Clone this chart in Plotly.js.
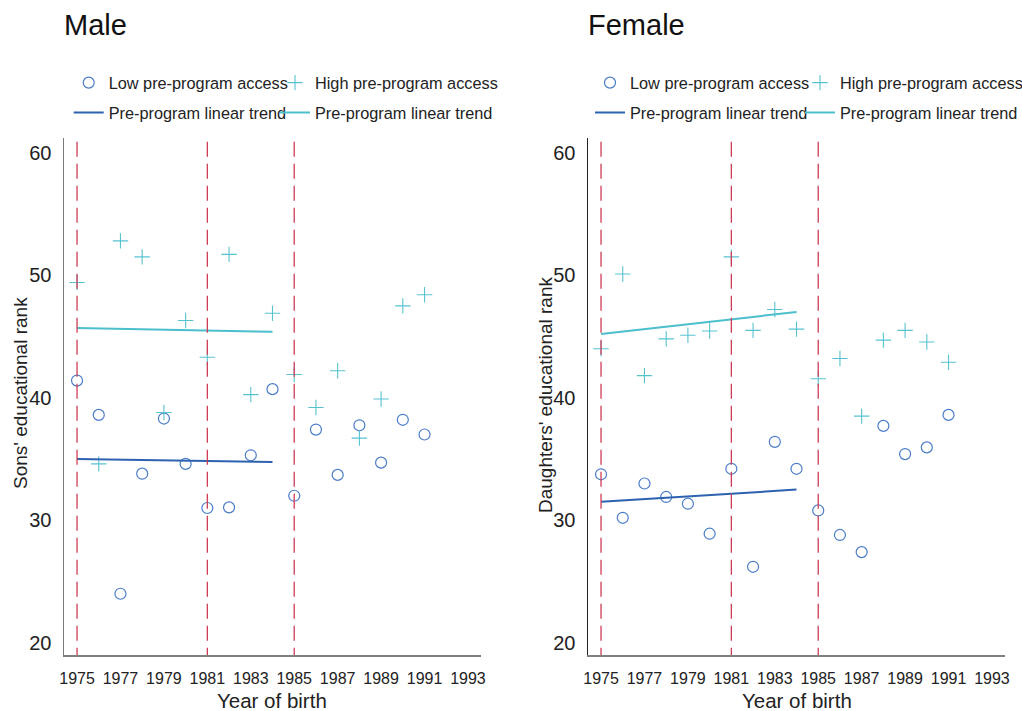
<!DOCTYPE html>
<html><head><meta charset="utf-8">
<script src="https://cdn.plot.ly/plotly-3.0.1.min.js"></script>
<style>html,body{margin:0;padding:0;background:#fff}#chart{width:1022px;height:711px}</style>
</head><body><div id="chart"></div>
<script>
// ---- data ----
const years = [1975,1976,1977,1978,1979,1980,1981,1982,1983,1984,1985,1986,1987,1988,1989,1990,1991];
const maleLow = [41.4,38.6,24.0,33.8,38.3,34.6,31.0,31.05,35.3,40.7,32.0,37.4,33.7,37.75,34.7,38.2,37.0];
const maleHigh = [49.4,34.6,52.8,51.5,38.8,46.3,43.3,51.7,40.25,46.9,41.9,39.2,42.2,36.7,39.9,47.5,48.4];
const femaleLow = [33.75,30.2,33.0,31.9,31.35,28.9,34.2,26.2,36.4,34.2,30.8,28.8,27.4,37.7,35.4,35.95,38.6];
const femaleHigh = [44.0,50.1,41.8,44.8,45.1,45.45,51.5,45.5,47.2,45.6,41.55,43.2,38.5,44.7,45.5,44.55,42.9];
const trendYears = [1975,1984];
const maleLowTrend = [35.0,34.75];
const maleHighTrend = [45.7,45.38];
const femaleLowTrend = [31.5,32.5];
const femaleHighTrend = [45.2,47.0];
const eventYears = [1975,1981,1985];
const xTicks = [1975,1977,1979,1981,1983,1985,1987,1989,1991,1993];
const yTicks = [20,30,40,50,60];
const panelTitles = ['Male','Female'];
const yTitles = ["Sons' educational rank","Daughters' educational rank"];
const xTitle = 'Year of birth';
const legendNames = ['Low pre-program access','High pre-program access','Pre-program linear trend','Pre-program linear trend'];

// ---- styling ----
const FONT = '"Liberation Sans", Arial, sans-serif';
const cLow = '#4a7cc8', cHigh = '#57c3d1', cLowLine = '#2c62b0', cHighLine = '#4bbfcc', cRed = '#cf3d57';
const W = 1022, H = 711;
const px = v => v / W, py = v => 1 - v / H;

function panelTraces(low, high, lowT, highT, xa, ya, legBase) {
  return [
    {x: years, y: low, type: 'scatter', mode: 'markers', name: legendNames[0], xaxis: xa, yaxis: ya,
     marker: {symbol: 'circle-open', size: 11, color: cLow, line: {width: 1.2, color: cLow}}, legend: 'legend' + (legBase + 2)},
    {x: years, y: high, type: 'scatter', mode: 'markers', name: legendNames[1], xaxis: xa, yaxis: ya,
     marker: {symbol: 'cross-thin-open', size: 11, color: cHigh, line: {width: 1.1, color: cHigh}}, legend: 'legend' + (legBase + 3)},
    {x: trendYears, y: lowT, type: 'scatter', mode: 'lines', name: legendNames[2], xaxis: xa, yaxis: ya,
     line: {color: cLowLine, width: 2}, legend: 'legend' + (legBase + 4)},
    {x: trendYears, y: highT, type: 'scatter', mode: 'lines', name: legendNames[3], xaxis: xa, yaxis: ya,
     line: {color: cHighLine, width: 2}, legend: 'legend' + (legBase + 5)}
  ];
}

const data = [
  ...panelTraces(maleLow, maleHigh, maleLowTrend, maleHighTrend, 'x', 'y', 0),
  ...panelTraces(femaleLow, femaleHigh, femaleLowTrend, femaleHighTrend, 'x2', 'y2', 4)
];

function legendAt(xpix, ypix) {
  return {x: px(xpix), y: py(ypix), xanchor: 'left', yanchor: 'middle', xref: 'paper', yref: 'paper',
          bgcolor: 'rgba(0,0,0,0)', borderwidth: 0, font: {family: FONT, size: 16.3, color: '#222'},
          orientation: 'v', itemwidth: 30};
}
const legOffset = 19;
const legCols = [[87.7, 294], [609, 819]];
const legRows = [83, 113];

function xAxis(domain) {
  return {domain: domain, range: [1974.4, 1993.6], tickvals: xTicks, ticktext: xTicks.map(String),
    showgrid: false, zeroline: false, showline: true, linecolor: '#808080', linewidth: 1.5, ticks: '',
    ticklabelstandoff: 8, tickfont: {family: FONT, size: 16, color: '#222'}};
}
function yAxis(domain, anchor, lineColor) {
  return {domain: domain, anchor: anchor, range: [19.0, 61.2], tickvals: yTicks, ticktext: yTicks.map(String),
    showgrid: false, zeroline: false, showline: true, linecolor: lineColor, linewidth: 1.5, ticks: '',
    ticklabelstandoff: 7, tickfont: {family: FONT, size: 20, color: '#222'}};
}

const yDom = [(H - 655) / H, (H - 138) / H];
const xDom1 = [64 / W, 481 / W], xDom2 = [588 / W, 1005 / W];
const titleFont = {family: FONT, size: 20.5, color: '#222'};
const layout = {
  width: W, height: H, margin: {l: 0, r: 0, t: 0, b: 0, autoexpand: false}, paper_bgcolor: '#fff', plot_bgcolor: '#fff',
  font: {family: FONT, color: '#222'}, showlegend: true,
  xaxis: Object.assign(xAxis(xDom1), {anchor: 'y'}),
  yaxis: yAxis(yDom, 'x', '#7a7a7a'),
  xaxis2: Object.assign(xAxis(xDom2), {anchor: 'y2'}),
  yaxis2: yAxis(yDom, 'x2', '#222'),
  shapes: [],
  annotations: [
    {text: panelTitles[0], xref: 'paper', yref: 'paper', x: px(62), y: py(25), xanchor: 'left', yanchor: 'middle', showarrow: false, font: {family: FONT, size: 29, color: '#111'}},
    {text: panelTitles[1], xref: 'paper', yref: 'paper', x: px(586), y: py(25), xanchor: 'left', yanchor: 'middle', showarrow: false, font: {family: FONT, size: 29, color: '#111'}},
    {text: yTitles[0], xref: 'paper', yref: 'paper', x: px(20), y: py(393), xanchor: 'center', yanchor: 'middle', textangle: -90, showarrow: false, font: {family: FONT, size: 19, color: '#222'}},
    {text: yTitles[1], xref: 'paper', yref: 'paper', x: px(545), y: py(395), xanchor: 'center', yanchor: 'middle', textangle: -90, showarrow: false, font: {family: FONT, size: 19, color: '#222'}},
    {text: xTitle, xref: 'paper', yref: 'paper', x: (xDom1[0] + xDom1[1]) / 2, y: py(700), xanchor: 'center', yanchor: 'middle', showarrow: false, font: titleFont},
    {text: xTitle, xref: 'paper', yref: 'paper', x: (xDom2[0] + xDom2[1]) / 2, y: py(700), xanchor: 'center', yanchor: 'middle', showarrow: false, font: titleFont}
  ]
};
[['x', 'y'], ['x2', 'y2']].forEach(([xr, yr]) => {
  eventYears.forEach(yr0 => {
    layout.shapes.push({type: 'line', xref: xr, yref: yr, x0: yr0, x1: yr0, y0: 60.9, y1: 19.0,
      line: {color: cRed, width: 1.3, dash: '15px,7px'}, layer: 'above'});
  });
});
// legends: per panel order low, high, lowTrend, highTrend
for (let p = 0; p < 2; p++) {
  const pos = [[legCols[p][0], legRows[0]], [legCols[p][1], legRows[0]], [legCols[p][0], legRows[1]], [legCols[p][1], legRows[1]]];
  pos.forEach((ps, i) => {
    layout['legend' + (p * 4 + i + 2)] = legendAt(ps[0] - legOffset, ps[1]);
  });
}

Plotly.newPlot('chart', data, layout, {staticPlot: true, displayModeBar: false});
</script>
</body></html>
